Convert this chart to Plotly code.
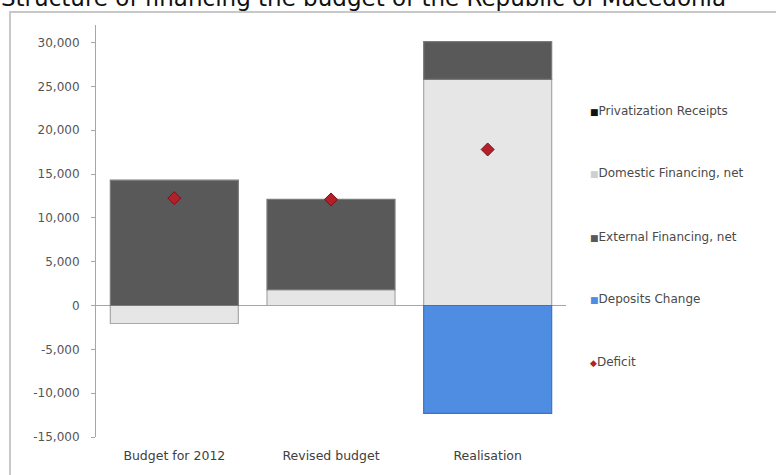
import plotly.graph_objects as go

categories = ["Budget for 2012", "Revised budget", "Realisation"]
privatization = [None, None, None]
domestic = [-2050, 1800, 25800]
external = [14300, 10300, 4300]
deposits = [None, None, -12300]
deficit = [12250, 12100, 17800]

tick_vals = [-15000, -10000, -5000, 0, 5000, 10000, 15000, 20000, 25000, 30000]
tick_text = ["-15,000", "-10,000", "-5,000", "0", "5,000", "10,000",
             "15,000", "20,000", "25,000", "30,000"]

title_text = "Structure of financing the budget of the Republic of Macedonia"

series_names = ["Privatization Receipts", "Domestic Financing, net",
                "External Financing, net", "Deposits Change", "Deficit"]
series_colors = ["#111111", "#e6e6e6", "#595959", "#4f8de3", "#b3202a"]
legend_glyphs = ["■", "■", "■", "■", "◆"]
legend_glyph_colors = ["#111111", "#cfcfcf", "#595959", "#4f8de3", "#b3202a"]

FONT = "DejaVu Sans"

fig = go.Figure()

fig.add_trace(go.Bar(
    x=categories, y=privatization, name=series_names[0],
    marker=dict(color=series_colors[0], line=dict(width=0)),
))
fig.add_trace(go.Bar(
    x=categories, y=domestic, name=series_names[1],
    marker=dict(color=series_colors[1], line=dict(color="#a8a8a8", width=1.2)),
))
fig.add_trace(go.Bar(
    x=categories, y=external, name=series_names[2],
    marker=dict(color=series_colors[2], line=dict(color="#7a7a7a", width=1.2)),
))
fig.add_trace(go.Bar(
    x=categories, y=deposits, name=series_names[3],
    marker=dict(color=series_colors[3], line=dict(color="#3f72bd", width=1.2)),
))
fig.add_trace(go.Scatter(
    x=categories, y=deficit, name=series_names[4], mode="markers",
    marker=dict(symbol="diamond", size=10, color=series_colors[4],
                line=dict(color="#7a1018", width=1)),
))

# plot area: x 96..566 px, y 25..437 px
L, R, T, B = 96, 210, 25, 38
PW, PH = 776 - L - R, 475 - T - B


def px(xp):
    return (xp - L) / PW


def py(yp):
    return (475 - B - yp) / PH


# legend drawn as a column of text entries to the right of the plot
legend_rows_y = [111, 173, 237, 299, 362]
legend_annotations = []
for name, glyph, gcol, yrow in zip(series_names, legend_glyphs,
                                   legend_glyph_colors, legend_rows_y):
    legend_annotations.append(dict(
        text=f"<span style='color:{gcol};font-size:9px'>{glyph}</span>{name}",
        xref="paper", yref="paper", x=px(588), y=py(yrow),
        xanchor="left", yanchor="middle", showarrow=False,
        font=dict(family=FONT, size=12, color="#4a4a4a"),
    ))

fig.update_layout(
    width=776, height=475,
    margin=dict(l=L, r=R, t=T, b=B),
    paper_bgcolor="white", plot_bgcolor="white",
    barmode="relative", bargap=0.183,
    font=dict(family=FONT, size=12, color="#404040"),
    showlegend=False,
    xaxis=dict(
        showline=False, showgrid=False, ticks="",
        tickfont=dict(family=FONT, size=12.5, color="#404040"),
        ticklabelstandoff=9,
    ),
    yaxis=dict(
        range=[-15000, 32000], tickvals=tick_vals, ticktext=tick_text,
        showgrid=False, showline=True, linecolor="#a6a6a6", linewidth=1,
        ticks="outside", ticklen=4, tickcolor="#a6a6a6",
        ticklabelstandoff=9,
        zeroline=True, zerolinecolor="#a6a6a6", zerolinewidth=1,
        tickfont=dict(family=FONT, size=12, color="#555555"),
    ),
    annotations=[dict(
        text=title_text, xref="paper", yref="paper",
        x=px(-1), y=py(-2), xanchor="left", yanchor="middle",
        showarrow=False, font=dict(family=FONT, size=23, color="#111111"),
    )] + legend_annotations,
    shapes=[dict(
        type="rect", xref="paper", yref="paper",
        x0=px(10), x1=px(800), y0=py(500), y1=py(12),
        line=dict(color="#c8c8c8", width=2), fillcolor="rgba(0,0,0,0)",
        layer="below",
    )],
)

fig.write_html("out.html")
